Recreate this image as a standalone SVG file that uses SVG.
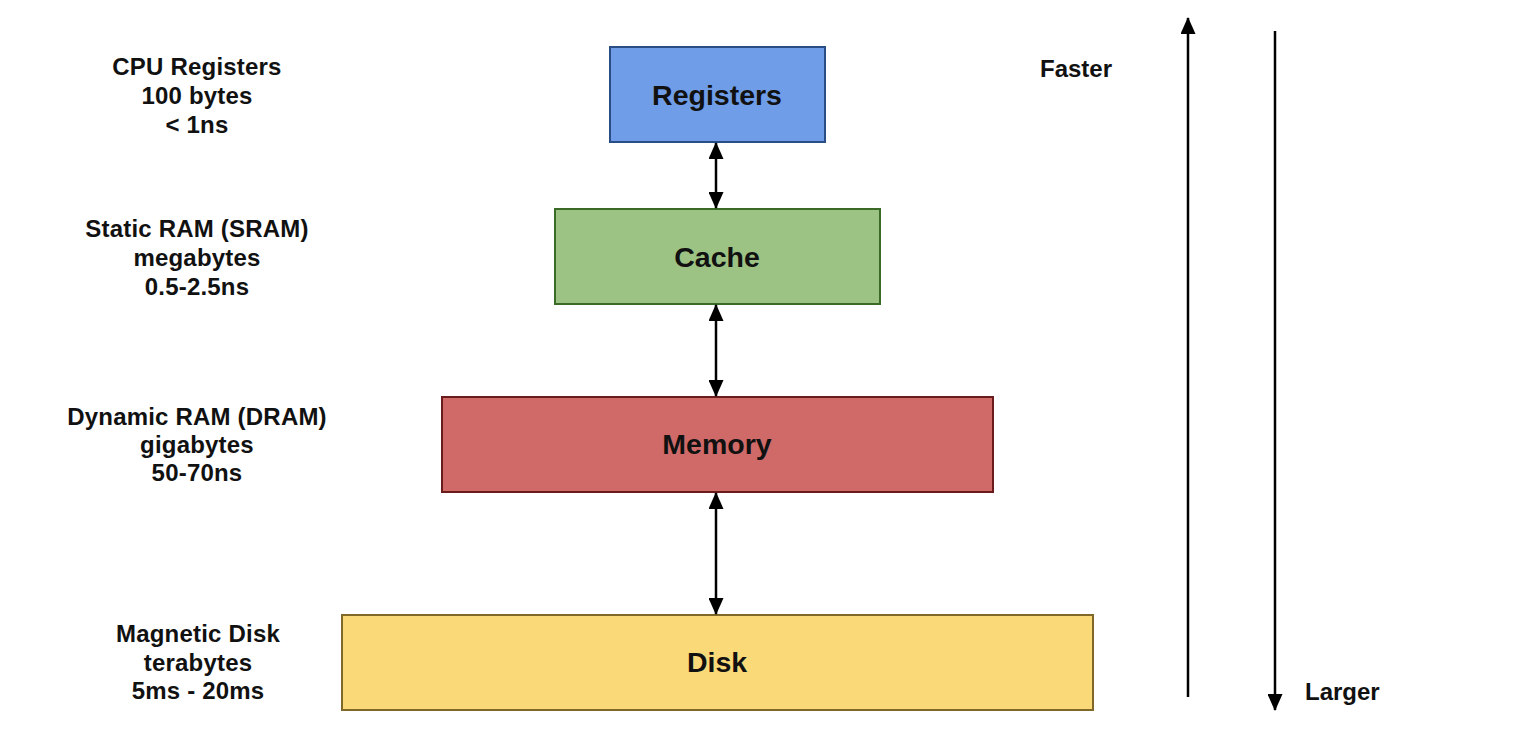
<svg xmlns="http://www.w3.org/2000/svg" width="1538" height="756" viewBox="0 0 1538 756">
<defs>
<marker id="ah" viewBox="0 0 17 15" refX="16" refY="7.5" markerWidth="17" markerHeight="15" markerUnits="userSpaceOnUse" orient="auto-start-reverse">
<path d="M0,0 L17,7.5 L0,15 Z" fill="#000"/>
</marker>
<style>
.lbl{font-family:"Liberation Sans",Arial,sans-serif;font-weight:bold;font-size:24px;fill:#111;text-anchor:middle;letter-spacing:0.2px}
.side{font-family:"Liberation Sans",Arial,sans-serif;font-weight:bold;font-size:24px;fill:#111}
.box{font-family:"Liberation Sans",Arial,sans-serif;font-weight:bold;font-size:28.5px;fill:#111;text-anchor:middle}
.conn{stroke:#000;stroke-width:2.5;fill:none}
</style>
</defs>
<rect width="1538" height="756" fill="#fff"/>
<g id="registers">
<rect x="610" y="47" width="215" height="95" fill="#6f9de8" stroke="#2b4d86" stroke-width="2"/>
<text class="box" x="717" y="105">Registers</text>
</g>
<g id="cache">
<rect x="555" y="209" width="325" height="95" fill="#9dc384" stroke="#3a6a26" stroke-width="2"/>
<text class="box" x="717" y="267">Cache</text>
</g>
<g id="memory">
<rect x="442" y="397" width="551" height="95" fill="#d06a68" stroke="#6a1c1c" stroke-width="2"/>
<text class="box" x="717" y="454">Memory</text>
</g>
<g id="disk">
<rect x="342" y="615" width="751" height="95" fill="#f9d978" stroke="#80672a" stroke-width="2"/>
<text class="box" x="717" y="672">Disk</text>
</g>
<g id="label-registers">
<text class="lbl" x="197" y="75">CPU Registers</text>
<text class="lbl" x="197" y="104">100 bytes</text>
<text class="lbl" x="197" y="133">&lt; 1ns</text>
</g>
<g id="label-cache">
<text class="lbl" x="197" y="237">Static RAM (SRAM)</text>
<text class="lbl" x="197" y="266">megabytes</text>
<text class="lbl" x="197" y="295">0.5-2.5ns</text>
</g>
<g id="label-memory">
<text class="lbl" x="197" y="425">Dynamic RAM (DRAM)</text>
<text class="lbl" x="197" y="453">gigabytes</text>
<text class="lbl" x="197" y="481">50-70ns</text>
</g>
<g id="label-disk">
<text class="lbl" x="198" y="642">Magnetic Disk</text>
<text class="lbl" x="198" y="671">terabytes</text>
<text class="lbl" x="198" y="699">5ms - 20ms</text>
</g>
<g id="faster"><text class="side" x="1040" y="77">Faster</text></g>
<g id="larger"><text class="side" x="1305" y="700">Larger</text></g>
<g id="connectors">
<line class="conn" x1="716" y1="143" x2="716" y2="208" marker-start="url(#ah)" marker-end="url(#ah)"/>
<line class="conn" x1="716" y1="305" x2="716" y2="396" marker-start="url(#ah)" marker-end="url(#ah)"/>
<line class="conn" x1="716" y1="493" x2="716" y2="614" marker-start="url(#ah)" marker-end="url(#ah)"/>
<line class="conn" x1="1188" y1="697" x2="1188" y2="18" marker-end="url(#ah)"/>
<line class="conn" x1="1275" y1="31" x2="1275" y2="710" marker-end="url(#ah)"/>
</g>
</svg>
